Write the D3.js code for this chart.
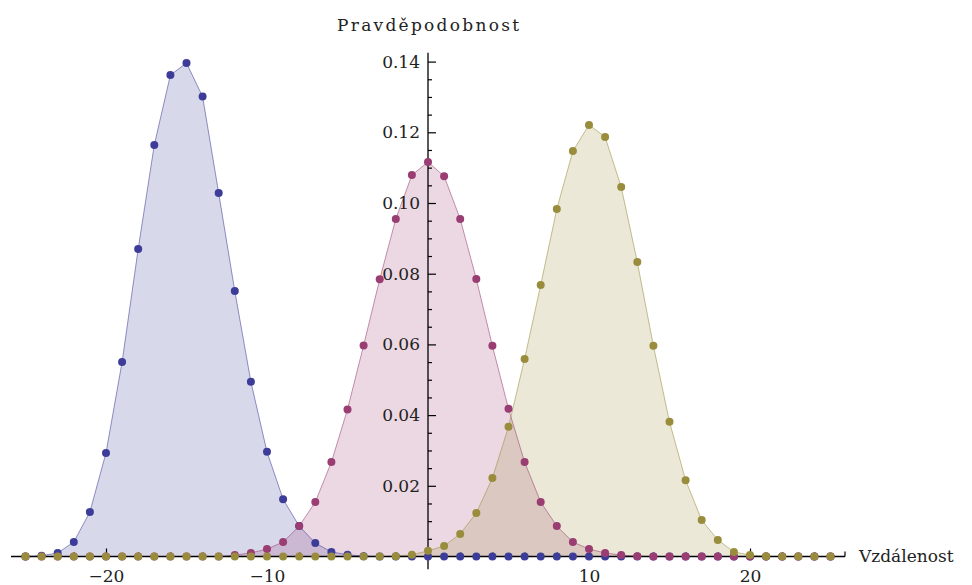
<!DOCTYPE html>
<html>
<head>
<meta charset="utf-8">
<script src="https://cdn.jsdelivr.net/npm/d3@7"></script>
<style>
  body { margin: 0; background: #fff; }
  text { font-family: "DejaVu Serif", "Liberation Serif", serif; fill: #222; }
</style>
</head>
<body>
<script>
// distance values (x), one point per unit
var xs = [-25,-24,-23,-22,-21,-20,-19,-18,-17,-16,-15,-14,-13,-12,-11,-10,-9,-8,-7,-6,-5,-4,-3,-2,-1,
          0,1,2,3,4,5,6,7,8,9,10,11,12,13,14,15,16,17,18,19,20,21,22,23,24,25];

var blue = [0,0.0002,0.0010,0.0041,0.0126,0.0293,0.0550,0.0870,0.1164,0.1362,0.1396,0.1301,0.1028,0.0751,0.0494,
            0.0296,0.0162,0.0086,0.0038,0.0013,0.0005,0.0001,0,0,0,
            0,0,0,0,0,0,0,0,0,0,0,0,0,0,0,0,0,0,0,0,0,0,0,0,0,0];

var pink = [0,0,0,0,0,0,0,0,0,0,0,0,0,0.0004,0.0010,0.0021,0.0041,0.0086,0.0154,0.0267,0.0416,0.0597,0.0784,0.0955,0.1079,
            0.1116,0.1076,0.0955,0.0785,0.0596,0.0418,0.0267,0.0154,0.0086,0.0041,0.0021,0.0010,0.0004,0.0001,0,
            0,0,0,0,0,0,0,0,0,0,0];

var olive = [0,0,0,0,0,0,0,0,0,0,0,0,0,0,0,0,0,0,0,0,0,0,0,0.0001,0.0005,
             0.0016,0.0030,0.0064,0.0123,0.0222,0.0367,0.0559,0.0768,0.0983,0.1147,0.1221,0.1187,0.1045,0.0833,0.0596,
             0.0381,0.0216,0.0103,0.0047,0.0013,0.0004,0.0001,0,0,0,0];

var series = [
  { name: "a", values: blue,  color: "#3d3d99" },
  { name: "b", values: pink,  color: "#993d72" },
  { name: "c", values: olive, color: "#998d3d" }
];

var xMajor = [-20, -10, 10, 20];
var xMinor = [-24,-22,-18,-16,-14,-12,-8,-6,-4,-2,2,4,6,8,12,14,16,18,22,24];
var yMajor = [0.02, 0.04, 0.06, 0.08, 0.10, 0.12, 0.14];
var yMinor = [0.005,0.01,0.015,0.025,0.03,0.035,0.045,0.05,0.055,0.065,0.07,0.075,0.085,0.09,0.095,0.105,0.11,0.115,0.125,0.13,0.135];

var width = 972, height = 585;

var svg = d3.select("body").append("svg")
    .attr("width", width)
    .attr("height", height);

var x = d3.scaleLinear().domain([-25.9, 25.9]).range([11, 845]);
var y = d3.scaleLinear().domain([0, 0.14]).range([556.5, 61.6]);

var area = d3.area()
    .x(function(d) { return x(d[0]); })
    .y0(y(0))
    .y1(function(d) { return y(d[1]); });

var line = d3.line()
    .x(function(d) { return x(d[0]); })
    .y(function(d) { return y(d[1]); });

series.forEach(function(s) {
    s.pts = xs.map(function(v, i) { return [v, s.values[i]]; });
});

// fills
series.forEach(function(s) {
    svg.append("path")
        .datum(s.pts)
        .attr("fill", s.color)
        .attr("fill-opacity", 0.2)
        .attr("d", area);
});

// lines
series.forEach(function(s) {
    svg.append("path")
        .datum(s.pts)
        .attr("fill", "none")
        .attr("stroke", s.color)
        .attr("stroke-opacity", 0.55)
        .attr("stroke-width", 1)
        .attr("d", line);
});

// axes
var gx = svg.append("g").attr("transform", "translate(0," + y(0) + ")");
gx.append("line").attr("x1", x(-25.9)).attr("x2", x(25.9)).attr("stroke", "#000").attr("stroke-width", 1.3);
gx.append("g").call(d3.axisBottom(x).tickValues(xMinor).tickSize(-4).tickFormat(""))
    .call(function(g) { g.select(".domain").remove(); g.selectAll("line").attr("stroke-width", 1.2); });
gx.append("g").call(d3.axisBottom(x).tickValues(xMajor).tickSize(-8).tickPadding(13)
        .tickFormat(function(d) { return d3.format("d")(d).replace("-", "\u2212"); }))
    .call(function(g) {
        g.select(".domain").remove();
        g.selectAll("line").attr("stroke-width", 1.2);
        g.selectAll("text").attr("font-size", 17).attr("font-family", null);
    });
// end tick on x axis
gx.append("line").attr("x1", x(25.9)).attr("x2", x(25.9)).attr("y1", 0).attr("y2", -5).attr("stroke", "#000").attr("stroke-width", 1.2);

var gy = svg.append("g").attr("transform", "translate(" + x(0) + ",0)");
gy.append("line").attr("y1", y(0.1425)).attr("y2", y(-0.0036)).attr("stroke", "#000").attr("stroke-width", 1.3);
gy.append("g").call(d3.axisLeft(y).tickValues(yMinor).tickSize(-4).tickFormat(""))
    .call(function(g) { g.select(".domain").remove(); g.selectAll("line").attr("stroke-width", 1.2); });
gy.append("g").call(d3.axisLeft(y).tickValues(yMajor).tickSize(-8).tickPadding(8)
        .tickFormat(d3.format(".2f")))
    .call(function(g) {
        g.select(".domain").remove();
        g.selectAll("line").attr("stroke-width", 1.2);
        g.selectAll("text").attr("font-size", 17).attr("font-family", null);
    });

// points
series.forEach(function(s) {
    svg.append("g").selectAll("circle")
        .data(s.pts)
        .join("circle")
        .attr("cx", function(d) { return x(d[0]); })
        .attr("cy", function(d) { return y(d[1]); })
        .attr("r", 4)
        .attr("fill", s.color);
});

// axis labels
svg.append("text")
    .attr("x", x(0))
    .attr("y", 31)
    .attr("text-anchor", "middle")
    .attr("font-size", 17)
    .attr("textLength", 182)
    .text("Pravděpodobnost");

svg.append("text")
    .attr("x", 859)
    .attr("y", 562)
    .attr("font-size", 17)
    .text("Vzdálenost");
</script>
</body>
</html>
